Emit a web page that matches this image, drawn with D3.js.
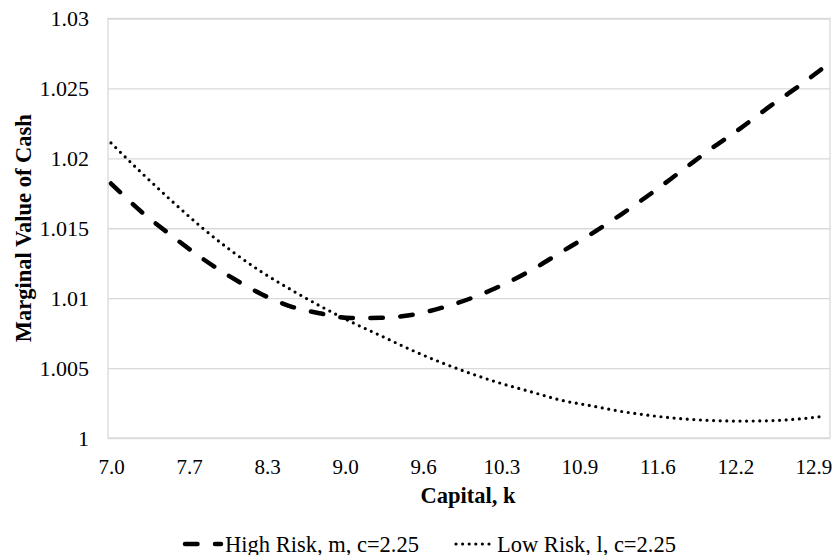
<!DOCTYPE html>
<html>
<head>
<meta charset="utf-8">
<script src="https://cdn.jsdelivr.net/npm/d3@7"></script>
<style>
  html, body { margin: 0; padding: 0; background: #fff; }
  svg { display: block; }
</style>
</head>
<body>
<div id="chart"></div>
<script>
// capital grid
const capital = [7.0, 7.25, 7.5, 7.75, 8.0, 8.25, 8.5, 8.75, 9.0, 9.25, 9.5, 9.75,
                 10.0, 10.25, 10.5, 10.75, 11.0, 11.25, 11.5, 11.75, 12.0, 12.25, 12.5, 12.75, 12.95];

// high risk, m, c=2.25
const highRisk = [1.0182, 1.0162, 1.0145, 1.0129, 1.0115, 1.0103, 1.0094, 1.0089, 1.00858, 1.0086,
                  1.0088, 1.0093, 1.0100, 1.0109, 1.0120, 1.0133, 1.0146, 1.0160, 1.0175, 1.0191,
                  1.0207, 1.0222, 1.0238, 1.0253, 1.0266];

// low risk, l, c=2.25
const lowRisk = [1.0211, 1.0190, 1.0170, 1.0151, 1.0134, 1.0119, 1.0106, 1.0094, 1.0083, 1.0073,
                 1.0063, 1.0054, 1.0046, 1.0039, 1.0033, 1.0027, 1.0023, 1.0019, 1.0016, 1.00138,
                 1.00125, 1.00121, 1.00124, 1.00138, 1.00157];

const seriesNames = ['High Risk, m, c=2.25', 'Low Risk, l, c=2.25'];

// category labels shown on the x axis (every 13th category of 0.05 steps)
const xTickValues = [7.0, 7.65, 8.3, 8.95, 9.6, 10.25, 10.9, 11.55, 12.2, 12.85];
const xTickLabels = ['7.0', '7.7', '8.3', '9.0', '9.6', '10.3', '10.9', '11.6', '12.2', '12.9'];

const yTickValues = [1, 1.005, 1.01, 1.015, 1.02, 1.025, 1.03];
const yTickLabels = ['1', '1.005', '1.01', '1.015', '1.02', '1.025', '1.03'];

const graphWidth = 833;
const graphHeight = 555;
const margin = {left: 108, right: 3, top: 18.5, bottom: 117};
const width = graphWidth - margin.left - margin.right;
const height = graphHeight - margin.top - margin.bottom;

const font = '"Liberation Serif", "Times New Roman", serif';
const gridColor = '#d9d9d9';

// category axis: first/last categories sit half a step inside the plot
const x = d3.scaleLinear()
            .domain([6.975, 12.975])
            .range([0, width - 1.5]);
const y = d3.scaleLinear()
            .domain([1, 1.03])
            .range([height, 0]);

const svg = d3.select('#chart').append('svg')
                .attr('width', graphWidth)
                .attr('height', graphHeight)
            .append('g')
                .attr('transform', 'translate(' + margin.left + ',' + margin.top + ')');

// horizontal gridlines
svg.append('g')
    .attr('class', 'grid')
    .call(d3.axisLeft(y).tickValues(yTickValues).tickSize(-width).tickFormat(''))
    .call(g => g.select('.domain').remove())
    .call(g => g.selectAll('line').attr('stroke', gridColor).attr('stroke-width', 1.3));

// plot area border
svg.append('rect')
    .attr('x', 0)
    .attr('y', 0)
    .attr('width', width)
    .attr('height', height)
    .attr('fill', 'none')
    .attr('stroke', gridColor)
    .attr('stroke-width', 1.3);

// y axis labels
svg.append('g')
    .call(d3.axisLeft(y).tickValues(yTickValues).tickSize(0).tickPadding(19)
            .tickFormat((d, i) => yTickLabels[i]))
    .call(g => g.select('.domain').remove())
    .call(g => g.selectAll('text')
        .attr('font-family', font)
        .attr('font-size', '22px')
        .attr('fill', '#000'));

// x axis labels
svg.append('g')
    .attr('transform', 'translate(0,' + height + ')')
    .call(d3.axisBottom(x).tickValues(xTickValues).tickSize(0).tickPadding(21)
            .tickFormat((d, i) => xTickLabels[i]))
    .call(g => g.select('.domain').remove())
    .call(g => g.selectAll('text')
        .attr('font-family', font)
        .attr('font-size', '21px')
        .attr('fill', '#000'));

// axis titles
svg.append('text')
    .attr('x', width / 2 - 1)
    .attr('y', height + 65)
    .attr('text-anchor', 'middle')
    .attr('font-family', font)
    .attr('font-size', '22.5px')
    .attr('font-weight', 'bold')
    .text('Capital, k');

svg.append('text')
    .attr('transform', 'translate(' + (31 - margin.left) + ',' + (height / 2) + ') rotate(-90)')
    .attr('text-anchor', 'middle')
    .attr('font-family', font)
    .attr('font-size', '22.5px')
    .attr('font-weight', 'bold')
    .text('Marginal Value of Cash');

const line = d3.line()
    .x(d => x(d[0]))
    .y(d => y(d[1]))
    .curve(d3.curveMonotoneX);

const styles = [
  {width: 4.5, dash: '12.5 17.5'},
  {width: 3.2, dash: '0 6.6'}
];

const series = [highRisk, lowRisk];

// draw the lines
svg.selectAll('.series')
    .data(series)
  .enter().append('path')
    .attr('class', 'series')
    .attr('d', vals => line(capital.map((k, i) => [k, vals[i]])))
    .attr('fill', 'none')
    .attr('stroke', '#000')
    .attr('stroke-width', (d, i) => styles[i].width)
    .attr('stroke-dasharray', (d, i) => styles[i].dash)
    .attr('stroke-linecap', 'round');

// legend
const legendY = 544 - margin.top;
const legendItems = [
  {sx: 185 - margin.left, ex: 221 - margin.left, tx: 225 - margin.left},
  {sx: 456 - margin.left, ex: 490 - margin.left, tx: 497 - margin.left}
];

const legend = svg.selectAll('.legend')
    .data(seriesNames)
  .enter().append('g')
    .attr('class', 'legend');

legend.append('line')
    .attr('x1', (d, i) => legendItems[i].sx)
    .attr('x2', (d, i) => legendItems[i].ex)
    .attr('y1', legendY)
    .attr('y2', legendY)
    .attr('stroke', '#000')
    .attr('stroke-width', (d, i) => styles[i].width)
    .attr('stroke-dasharray', (d, i) => styles[i].dash)
    .attr('stroke-linecap', 'round');

legend.append('text')
    .attr('x', (d, i) => legendItems[i].tx)
    .attr('y', legendY + 7.5)
    .attr('font-family', font)
    .attr('font-size', '22.5px')
    .attr('fill', '#000')
    .text(d => d);
</script>
</body>
</html>
